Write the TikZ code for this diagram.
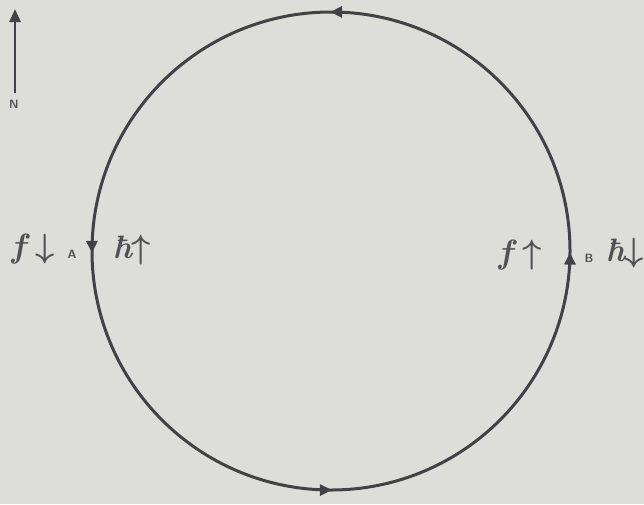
\documentclass[tikz,border=0pt]{standalone}
\usetikzlibrary{arrows.meta,decorations.markings}
\definecolor{paper}{RGB}{221,221,218}
\definecolor{ink}{RGB}{66,66,70}
\definecolor{pencil}{RGB}{82,82,86}
\newcommand{\bigtag}[1]{\scalebox{1.35}{#1}}
\tikzset{
  orbit/.style={draw=ink,line width=3pt},
  hand/.style={text=pencil,inner sep=0pt,font=\fontsize{24}{24}\selectfont\bfseries\itshape\boldmath},
  tiny/.style={text=pencil,inner sep=0pt,font=\fontsize{12}{12}\selectfont\sffamily\bfseries},
  headtip/.tip={Triangle[length=12pt,width=11pt]}
}
\begin{document}
\begin{tikzpicture}[x=1pt,y=-1pt]
\fill[paper] (0,0) rectangle (644,504);
\useasboundingbox (0,0) rectangle (644,504);
% circle, counterclockwise with four direction marks
\draw[orbit,
  postaction={decorate,decoration={markings,
    mark=at position 0.2506 with {\arrow[ink]{headtip}},
    mark=at position 0.5013 with {\arrow[ink]{headtip}},
    mark=at position 0.7506 with {\arrow[ink]{headtip}},
    mark=at position 0.9990 with {\arrow[ink]{headtip}}}}]
  (570,251) arc[start angle=0,end angle=-360,radius=239];
% north arrow
\coordinate (nbase) at (15,93);
\coordinate (ntip) at (15,9);
\draw[ink,line width=2.6pt,-{Triangle[length=13pt,width=11pt]}] (nbase) -- (ntip);
\node[tiny] (north) at (14,104) {N};
% labels at A
\node[hand] (fA) at (32,249) {\bigtag{$f\!\downarrow$}};
\node[tiny] (A) at (72,254) {A};
\node[hand] (hA) at (132,250) {\bigtag{ħ$\uparrow$}};
% labels at B
\node[hand] (fB) at (519,255) {\bigtag{$f\!\uparrow$}};
\node[tiny] (B) at (589,258) {B};
\node[hand] (hB) at (625,253) {\bigtag{ħ$\downarrow$}};
\end{tikzpicture}
\end{document}
